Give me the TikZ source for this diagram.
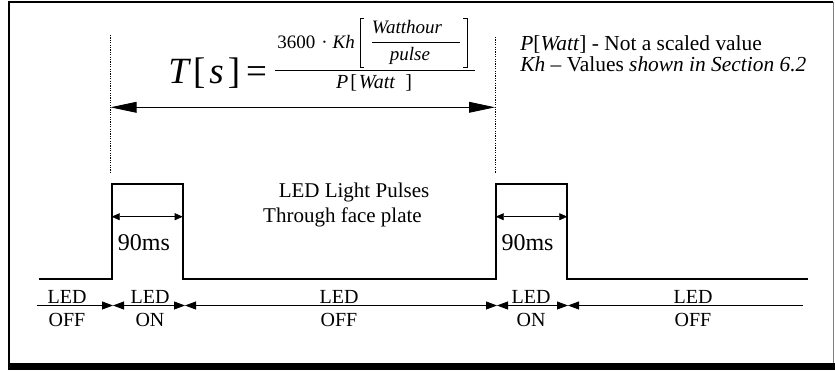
\documentclass[tikz,border=0pt]{standalone}
\usepackage{fontspec}
\setmainfont{Liberation Serif}
\usetikzlibrary{arrows.meta}

\begin{document}
\begin{tikzpicture}[
    x=0.5pt, y=-0.5pt,
    signal/.style={line width=1pt, draw=black},
    guide/.style={line width=0.4pt, dash pattern=on 0.6pt off 0.6pt},
    period/.style={{Triangle[length=13pt, width=5.4pt]}-{Triangle[length=13pt, width=5.4pt]}, line width=0.4pt},
    width/.style={{Triangle[length=4pt, width=3.5pt]}-{Triangle[length=4pt, width=3.5pt]}, line width=0.3pt},
    endarr/.style={-{Triangle[length=5.5pt, width=4pt]}, line width=0.4pt},
    bothArr/.style={{Triangle[length=5.5pt, width=4pt]}-{Triangle[length=5.5pt, width=4pt]}, line width=0.4pt},
    startarr/.style={{Triangle[length=5.5pt, width=4pt]}-, line width=0.4pt},
    lbl/.style={font=\fontsize{10}{12}\selectfont, inner sep=0pt, anchor=base},
    note/.style={font=\fontsize{10.7}{12}\selectfont, inner sep=0pt, anchor=base west},
    big/.style={font=\fontsize{18.5}{22}\selectfont, inner sep=0pt, anchor=base west},
    small/.style={font=\fontsize{9.5}{11}\selectfont, inner sep=0pt, anchor=base}
]
    \useasboundingbox (0,0) rectangle (835,370);

    % frame
    \draw[line width=1pt] (9,366) -- (9,1.5) -- (833,1.5);
    \draw[gray, line width=0.5pt] (833,1.5) -- (833,363);
    \fill (8,363) rectangle (835,370);

    % formula
    \node[big] (lhs) at (168,83)
        {\textit{T}\hspace{1pt}[\hspace{2pt}\textit{s}\hspace{2pt}]\hspace{3pt}=};
    \node[small, anchor=base west] (num) at (277,48)
        {3600\hspace{3pt}·\hspace{2.5pt}\textit{Kh}};
    \node[small] (watth) at (407,33) {\textit{Watthour}};
    \node[small] (pulse) at (410,60) {\textit{pulse}};
    \node[small, font=\fontsize{10}{12}\selectfont] (den) at (374,88)
        {\textit{P}\hspace{1pt}[\hspace{1pt}\textit{Watt}\hspace{5pt}]};
    \draw[line width=0.5pt] (364,18) -- (360,18) -- (360,67) -- (364,67);
    \draw[line width=0.5pt] (463,18) -- (467,18) -- (467,67) -- (463,67);
    \draw[line width=0.4pt] (372,42.3) -- (460,42.3);
    \draw[line width=0.4pt] (275,70.7) -- (475,70.7);

    % notes
    \node[note] (n1) at (520,50) {\textit{P}[\textit{Watt}] - Not a scaled value};
    \node[note] (n2) at (520,71) {\textit{Kh} – Values \textit{shown in Section 6.2}};

    % period
    \coordinate (g1) at (110.5,35);
    \coordinate (g1b) at (110.5,173);
    \coordinate (g2) at (495,37);
    \coordinate (g2b) at (495,173);
    \draw[guide] (g1) -- (g1b);
    \draw[guide] (g2) -- (g2b);
    \coordinate (pa) at (110.5,107.3);
    \coordinate (pb) at (495,107.3);
    \draw[period] (pa) -- (pb);

    % pulses
    \coordinate (start) at (39,279);
    \coordinate (stop) at (808,279);
    \foreach \a/\b [count=\i] in {111.7/182.7, 495.7/567.3} {
        \coordinate (up\i) at (\a,279);
        \coordinate (down\i) at (\b,279);
        \coordinate (wa\i) at (\a,216.7);
        \coordinate (wb\i) at (\b,216.7);
    }
    \draw[signal] (start) -- (up1) -- ++(0,-95) -| (down1) -- (up2) -- ++(0,-95) -| (down2) -- (stop);
    \foreach \i in {1,2}
        \draw[width] (wa\i) -- (wb\i);
    \node[lbl, font=\fontsize{12}{14}\selectfont] (ms1) at (144,250) {90ms};
    \node[lbl, font=\fontsize{12}{14}\selectfont] (ms2) at (527.5,250) {90ms};

    \node[lbl, font=\fontsize{10.5}{12}\selectfont] (txt1) at (354,197) {LED Light Pulses};
    \node[lbl, font=\fontsize{10.5}{12}\selectfont] (txt2) at (342.5,222) {Through face plate};

    % timeline
    \foreach \x [count=\i] in {36.7,113,185,497,568,803}
        \coordinate (t\i) at (\x,305.5);
    \draw[endarr] (t1) -- (t2);
    \foreach \a/\b in {t2/t3, t3/t4, t4/t5}
        \draw[bothArr] (\a) -- (\b);
    \draw[startarr] (t5) -- (t6);

    \foreach \x/\s [count=\i] in {67/OFF, 150/ON, 339/OFF, 531/ON, 693/OFF} {
        \node[lbl] (led\i) at (\x,303) {LED};
        \node[lbl] (st\i) at (\x,326) {\s};
    }
\end{tikzpicture}
\end{document}
